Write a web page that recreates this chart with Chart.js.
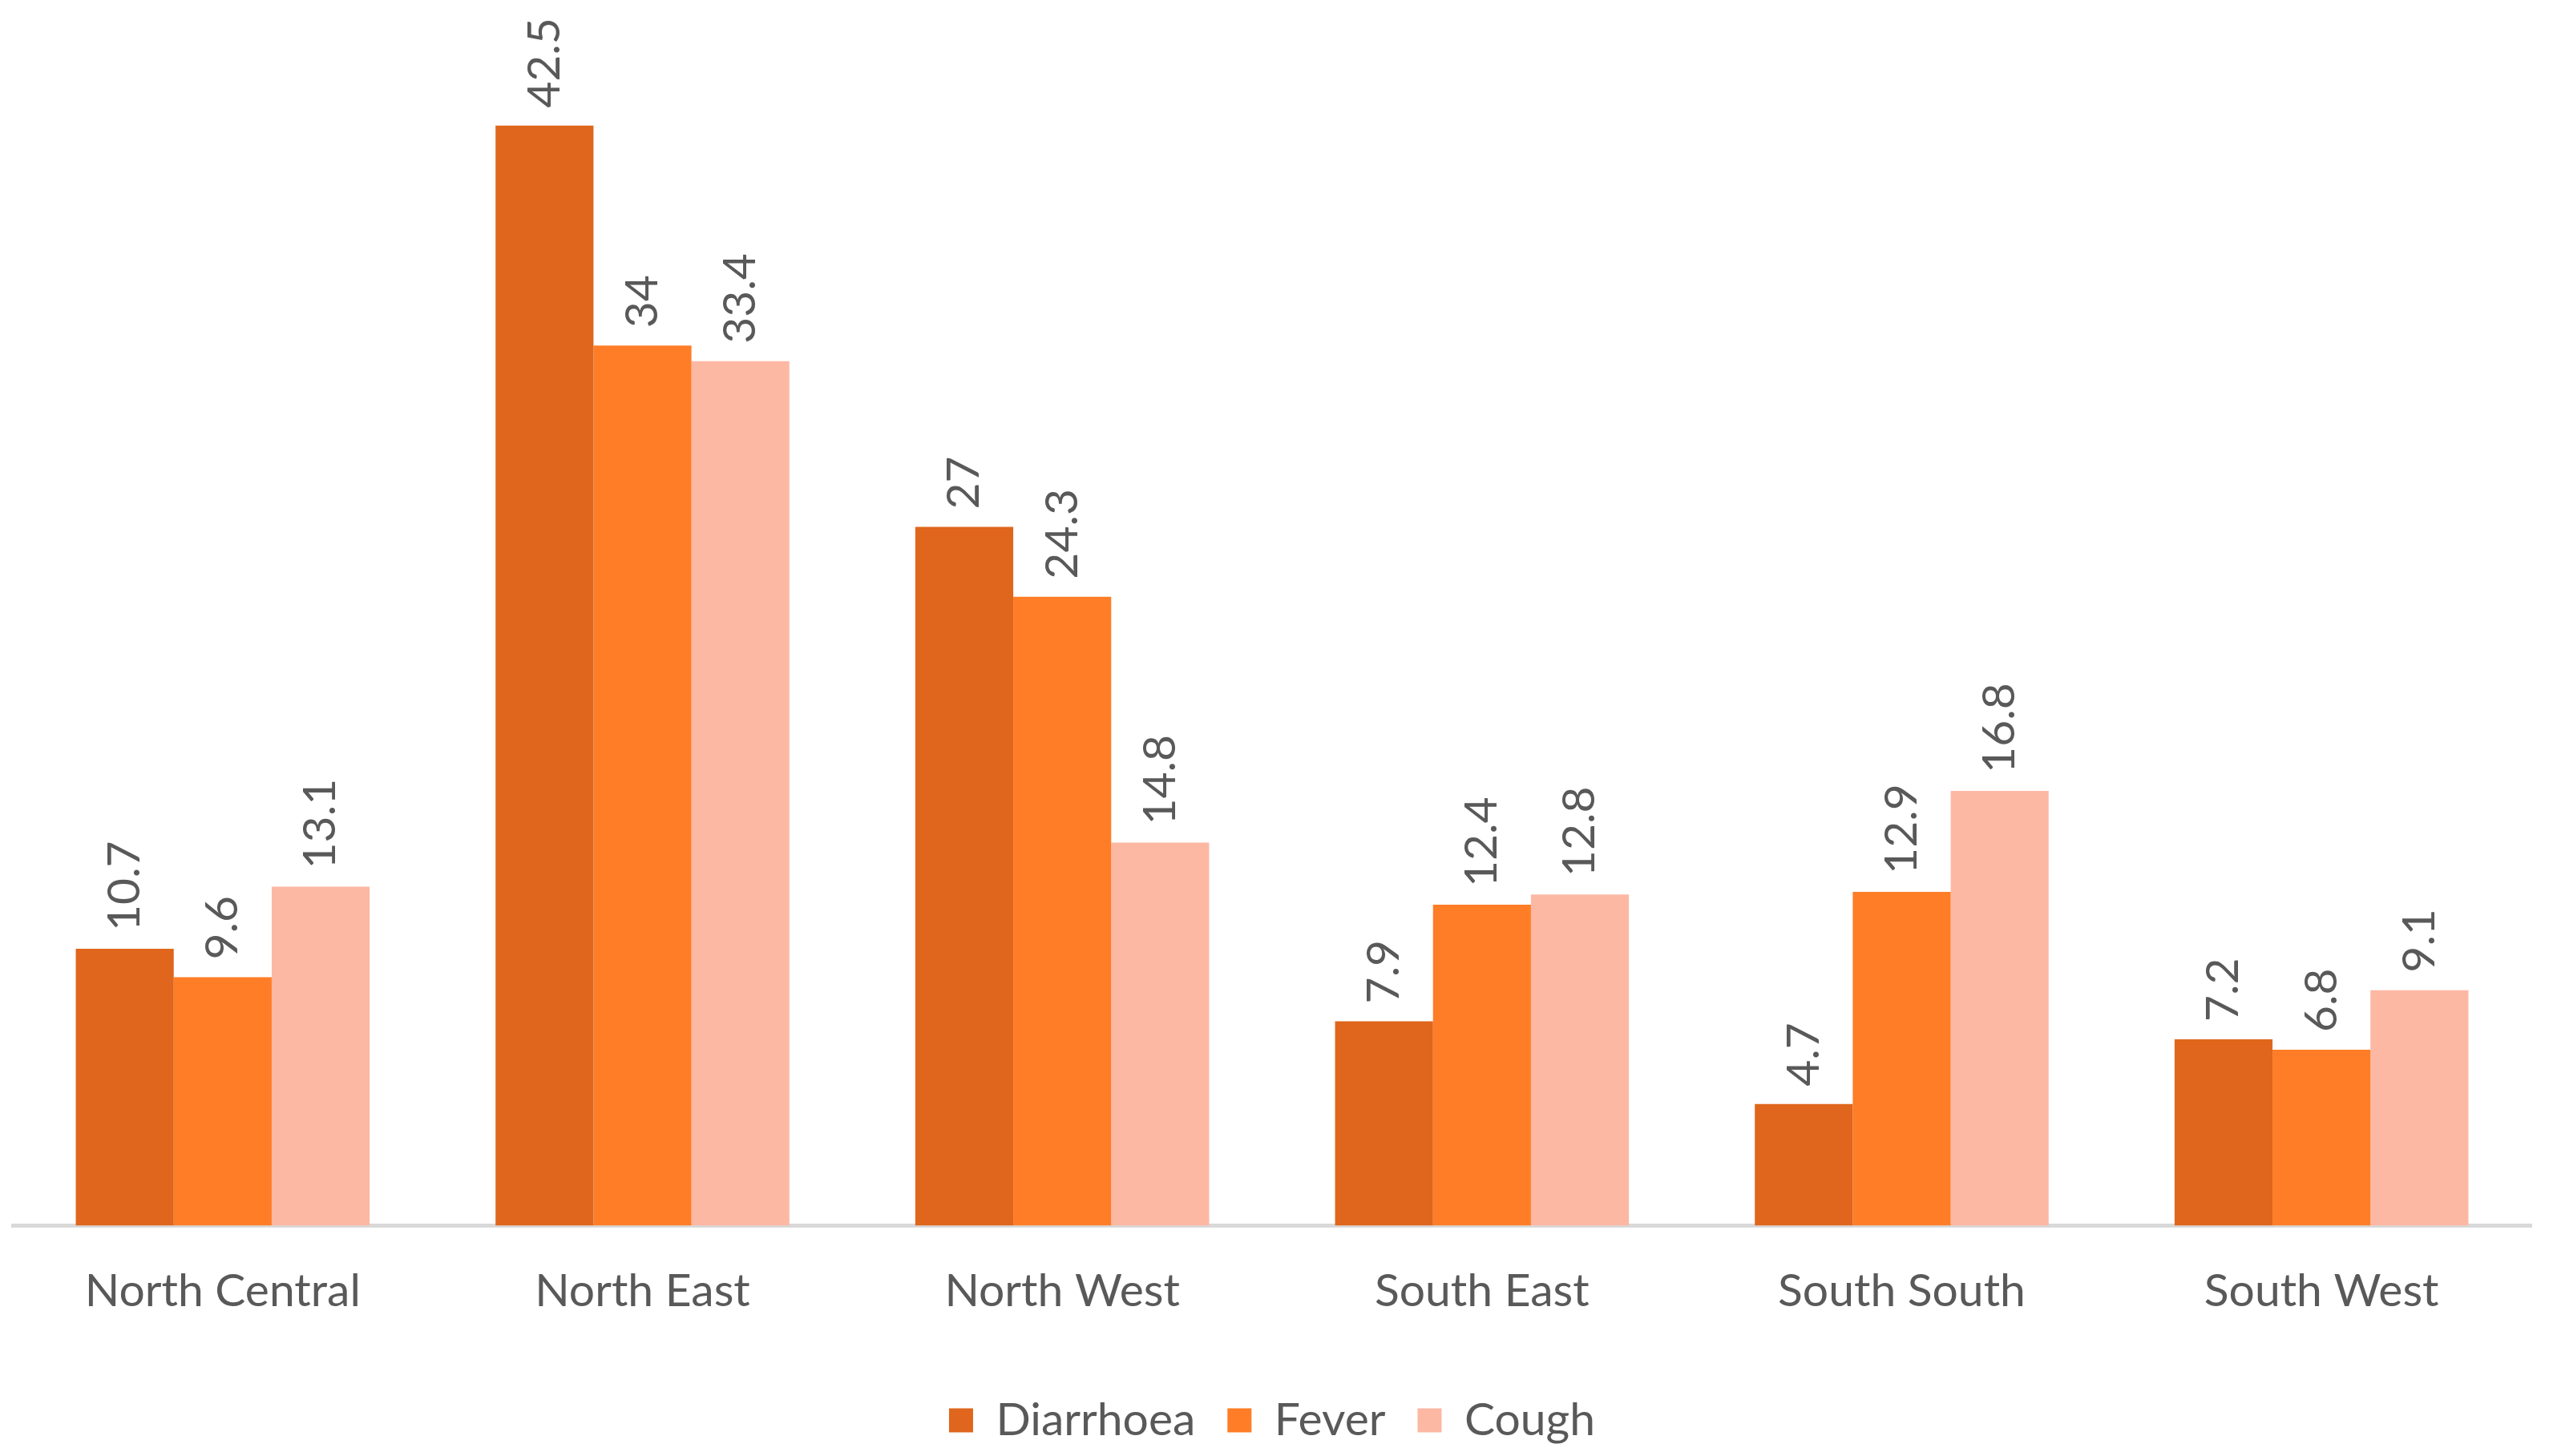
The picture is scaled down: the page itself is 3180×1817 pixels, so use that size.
<!DOCTYPE html>
<html>
<head>
<meta charset="utf-8">
<script src="https://cdn.jsdelivr.net/npm/chart.js@4"></script>
<style>
  html, body { margin: 0; padding: 0; background: #fff; }
  #chart { display: block; }
</style>
</head>
<body>
<canvas id="chart" width="3180" height="1817"></canvas>
<script>
// Regions and series values
const REGIONS = ['North Central', 'North East', 'North West', 'South East', 'South South', 'South West'];
const DIARRHOEA = [10.7, 42.5, 27, 7.9, 4.7, 7.2];
const FEVER = [9.6, 34, 24.3, 12.4, 12.9, 6.8];
const COUGH = [13.1, 33.4, 14.8, 12.8, 16.8, 9.1];
const Y_MAX = 45;

const TEXT = '#595959';
const FONT = 'Lato, "Liberation Sans", sans-serif';

// Rotated value labels above each bar
const barLabels = {
    id: 'barLabels',
    afterDatasetsDraw(chart) {
        const ctx = chart.ctx;
        ctx.save();
        ctx.fillStyle = TEXT;
        ctx.font = '57px ' + FONT;
        ctx.textAlign = 'left';
        ctx.textBaseline = 'middle';
        chart.data.datasets.forEach((ds, i) => {
            const meta = chart.getDatasetMeta(i);
            meta.data.forEach((bar, j) => {
                ctx.save();
                ctx.translate(bar.x, bar.y - 22);
                ctx.rotate(-Math.PI / 2);
                ctx.fillText(String(ds.data[j]), 0, 0);
                ctx.restore();
            });
        });
        ctx.restore();
    }
};

new Chart(document.getElementById('chart'), {
    type: 'bar',
    data: {
        labels: REGIONS,
        datasets: [
            { label: 'Diarrhoea', data: DIARRHOEA, backgroundColor: '#DF661C' },
            { label: 'Fever', data: FEVER, backgroundColor: '#FE7D26' },
            { label: 'Cough', data: COUGH, backgroundColor: '#FDB8A4' },
        ]
    },
    options: {
        responsive: false,
        animation: false,
        devicePixelRatio: 1,
        layout: { padding: { left: 16, right: 22, top: 76, bottom: 6 } },
        datasets: { bar: { categoryPercentage: 0.7, barPercentage: 1.0 } },
        plugins: {
            legend: {
                position: 'bottom',
                labels: {
                    color: TEXT,
                    font: { family: FONT, size: 57 },
                    boxWidth: 30,
                    boxHeight: 30,
                    padding: 40,
                }
            },
            tooltip: { enabled: false }
        },
        scales: {
            x: {
                grid: { display: false },
                border: { display: true, color: '#D9D9D9', width: 5 },
                ticks: { color: TEXT, font: { family: FONT, size: 57 }, padding: 40 },
                afterFit: scale => { scale.height += 18; }
            },
            y: {
                display: false,
                min: 0,
                max: Y_MAX
            }
        }
    },
    plugins: [barLabels]
});
</script>
</body>
</html>
